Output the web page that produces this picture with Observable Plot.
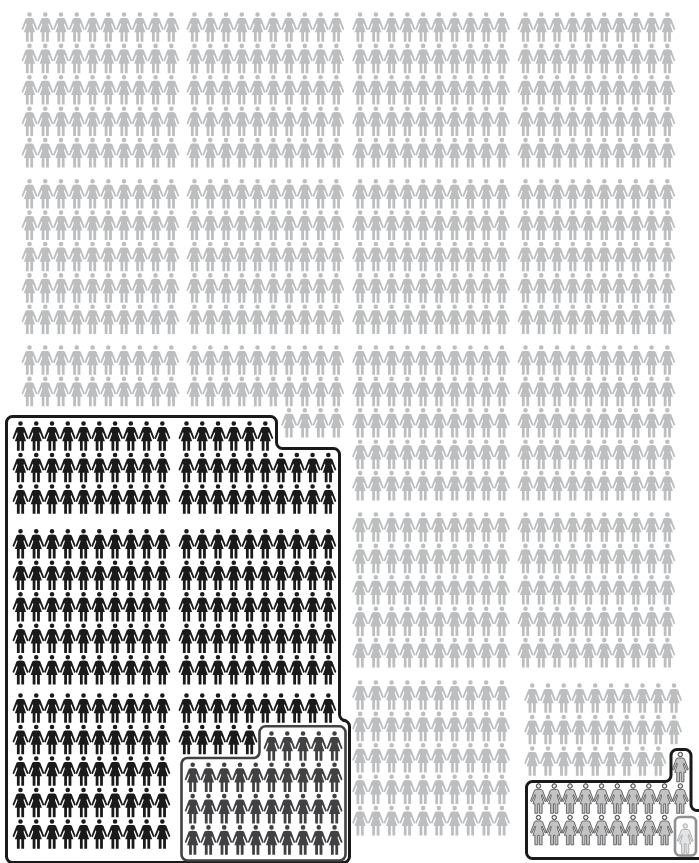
<!DOCTYPE html>
<html>
<head>
<meta charset="utf-8">
<script src="https://cdn.jsdelivr.net/npm/d3@7"></script>
<script src="https://cdn.jsdelivr.net/npm/@observablehq/plot@0.6"></script>
<style>html,body{margin:0;padding:0;background:#fff}svg{display:block}</style>
</head>
<body>
<div id="chart"></div>
<script>
// ---- data: how many people stand in each row of each block ----
const full = [10, 10, 10, 10, 10];
const greyColumn0 = [full, full, [10, 10]];
const greyColumn1 = [full, full, [10, 10, 4]];
const greyColumn2 = [full, full, full, full, full];
const greyColumn3 = [full, full, full, full];
const greyColumn3Last = [[10, 10, 9]];
const blackColumn0 = [[10, 10, 10], full, full];
const blackColumn1 = [[6, 10, 10], full, [10, 5]];
const darkRows = [[5, 10, 10, 10]];
const outlinedRows = [[1, 10, 9]];
const boxedRows = [[1]];

// ---- layout ----
const W = 699, H = 863, PX = 15.76, PY = 31.4;
const greyX = [29, 194, 359.6, 525], greyY = [14, 180.7, 347, 514, 682];
const blackX = [20, 186], blackY = [423, 530.7, 695];

// rows whose length is listed in rightAligned stand at the right end of the block
function place(blocks, x0, ys, rightAligned = [], pitchY = PY) {
  const out = [];
  blocks.forEach((rows, b) => rows.forEach((n, r) => {
    const shift = rightAligned.includes(n) ? 10 - n : 0;
    for (let i = 0; i < n; i++) out.push({x: x0 + (shift + i) * PX, y: ys[b] + r * pitchY});
  }));
  return out;
}
const grey = [
  ...place(greyColumn0, greyX[0], greyY),
  ...place(greyColumn1, greyX[1], greyY, [4]),
  ...place(greyColumn2, greyX[2], greyY),
  ...place(greyColumn3, greyX[3], greyY),
  ...place(greyColumn3Last, 531.7, [685], [], 31.5)
];
const black = [
  ...place(blackColumn0, blackX[0], blackY, [], 31.5),
  ...place(blackColumn1, blackX[1], blackY, [], 31.5)
];
const dark = place(darkRows, 192.2, [733], [5], 31.3);
const outlined = place(outlinedRows, 538, [754], [1], 31.5);
const boxed = place(boxedRows, 684.7, [825.5]);

// ---- pictogram glyph, head centre at the origin ----
const R0 = 10;
const woman = {
  draw(ctx, size) {
    const s = Math.sqrt(size / Math.PI) / R0;
    const pts = [
      [0, 3.4], [2.6, 3.5], [4.0, 4.2], [8, 14.8], [6.6, 15.7], [3.5, 8.6], [3.0, 10.2],
      [5.6, 17.8], [3.6, 17.8], [3.6, 27.3], [0.8, 27.3], [0.8, 17.8], [-0.8, 17.8], [-0.8, 27.3],
      [-3.6, 27.3], [-3.6, 17.8], [-5.6, 17.8], [-3.0, 10.2], [-3.5, 8.6], [-6.6, 15.7], [-8, 14.8],
      [-4.0, 4.2], [-2.6, 3.5]
    ];
    ctx.moveTo(pts[0][0] * s, pts[0][1] * s);
    for (const p of pts.slice(1)) ctx.lineTo(p[0] * s, p[1] * s);
    ctx.closePath();
    const r = 2.3 * s;
    ctx.moveTo(r, 0);
    ctx.arc(0, 0, r, 0, 2 * Math.PI);
    ctx.closePath();
  }
};

// ---- rounded polyline for the frames ----
function roundedCurve(radius) {
  return context => {
    let pts;
    return {
      lineStart() { pts = []; },
      point(x, y) { pts.push([x, y]); },
      lineEnd() {
        context.moveTo(pts[0][0], pts[0][1]);
        for (let i = 1; i < pts.length - 1; i++) {
          context.arcTo(pts[i][0], pts[i][1], pts[i + 1][0], pts[i + 1][1], radius);
        }
        context.lineTo(pts[pts.length - 1][0], pts[pts.length - 1][1]);
      },
      areaStart() {}, areaEnd() {}
    };
  };
}
const blackFrame = [[100, 416], [276, 416], [276, 448], [339, 448], [339, 720], [349, 720], [349, 862], [6, 862], [6, 416], [100, 416]];
const darkFrame = [[300, 725.8], [345, 725.8], [345, 860], [181, 860], [181, 757.5], [259, 757.5], [259, 725.8], [300, 725.8]];
const lowerFrame = [[600, 781], [670.5, 781], [670.5, 749], [690.5, 749], [690.5, 810], [706, 810], [706, 858], [526, 858], [526, 781], [600, 781]];
const boxFrame = [[685, 816.5], [695.5, 816.5], [695.5, 855], [674.5, 855], [674.5, 816.5], [685, 816.5]];
const asPts = a => a.map(([x, y]) => ({x, y}));

const common = {x: "x", y: "y", symbol: woman, r: R0};
const plot = Plot.plot({
  width: W, height: H,
  margin: 0,
  x: {domain: [0, W], range: [0, W], axis: null},
  y: {domain: [0, H], range: [0, H], axis: null},
  marks: [
    Plot.dot(grey, {...common, fill: "#bcbec0"}),
    Plot.dot(black, {...common, fill: "#1b1a1a"}),
    Plot.dot(dark, {...common, fill: "#414042"}),
    Plot.dot(outlined, {...common, fill: "#c2c3c5", stroke: "#38383a", strokeWidth: 0.7}),
    Plot.dot(outlined, {x: "x", y: "y", r: 2, fill: "#f1f1f2", stroke: "#38383a", strokeWidth: 0.7}),
    Plot.dot(boxed, {...common, fill: "#e3e4e5", stroke: "#96979a", strokeWidth: 0.7}),
    Plot.line(asPts(blackFrame), {x: "x", y: "y", stroke: "#1b1a1a", strokeWidth: 3, curve: roundedCurve(6)}),
    Plot.line(asPts(darkFrame), {x: "x", y: "y", stroke: "#414042", strokeWidth: 2.6, curve: roundedCurve(6)}),
    Plot.line(asPts(lowerFrame), {x: "x", y: "y", stroke: "#1b1a1a", strokeWidth: 3, curve: roundedCurve(6)}),
    Plot.line(asPts(boxFrame), {x: "x", y: "y", stroke: "#8f9092", strokeWidth: 2.6, curve: roundedCurve(5)})
  ]
});
document.getElementById("chart").append(plot);
</script>
</body>
</html>
